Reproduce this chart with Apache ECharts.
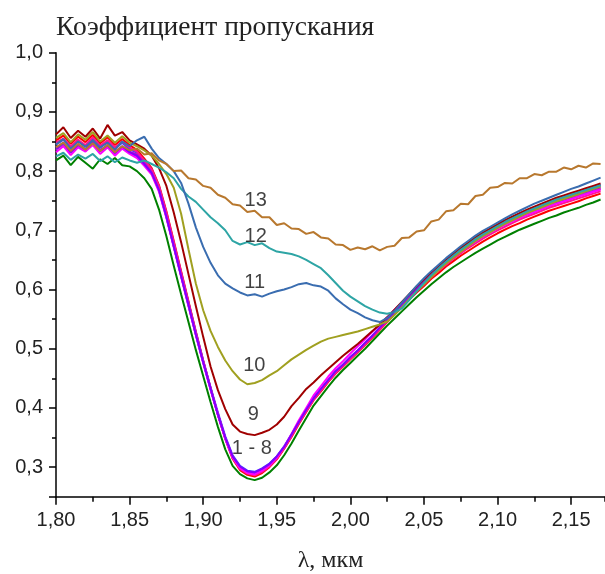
<!DOCTYPE html>
<html>
<head>
<meta charset="utf-8">
<script src="https://cdn.jsdelivr.net/npm/echarts@6/dist/echarts.min.js"></script>
<style>
html,body{margin:0;padding:0;background:#fff;}
#chart{width:605px;height:574px;}
</style>
</head>
<body>
<div id="chart"></div>
<script>
// wavelength grid, µm
const wavelengths = [
1.800,1.805,1.810,1.815,1.820,
1.825,1.830,1.835,1.840,1.845,
1.850,1.855,1.860,1.865,1.870,
1.875,1.880,1.885,1.890,1.895,
1.900,1.905,1.910,1.915,1.920,
1.925,1.930,1.935,1.940,1.945,
1.950,1.955,1.960,1.965,1.970,
1.975,1.980,1.985,1.990,1.995,
2.000,2.005,2.010,2.015,2.020,
2.025,2.030,2.035,2.040,2.045,
2.050,2.055,2.060,2.065,2.070,
2.075,2.080,2.085,2.090,2.095,
2.100,2.105,2.110,2.115,2.120,
2.125,2.130,2.135,2.140,2.145,
2.150,2.155,2.160,2.165,2.170];

// transmission curves 1..13
const s1 = [
0.852,0.860,0.846,0.858,0.849, 0.861,0.847,0.857,0.844,0.854, 0.844,0.836,0.821,0.805,0.776,
0.732,0.682,0.631,0.580,0.529, 0.480,0.434,0.389,0.348,0.314, 0.295,0.287,0.284,0.290,0.300,
0.313,0.331,0.351,0.373,0.393, 0.413,0.428,0.444,0.458,0.470, 0.482,0.494,0.506,0.519,0.532,
0.545,0.558,0.570,0.583,0.595, 0.606,0.618,0.628,0.639,0.648, 0.657,0.665,0.673,0.681,0.688,
0.695,0.701,0.707,0.712,0.718, 0.723,0.728,0.733,0.737,0.741, 0.745,0.749,0.754,0.758,0.762];
const s2 = [
0.818,0.826,0.810,0.824,0.814, 0.804,0.820,0.812,0.822,0.810, 0.808,0.800,0.788,0.770,0.735,
0.690,0.640,0.592,0.545,0.498, 0.454,0.410,0.368,0.330,0.302, 0.288,0.281,0.278,0.282,0.291,
0.303,0.320,0.340,0.362,0.383, 0.404,0.420,0.436,0.451,0.464, 0.476,0.488,0.500,0.513,0.526,
0.539,0.551,0.563,0.575,0.587, 0.598,0.609,0.619,0.629,0.638, 0.646,0.654,0.662,0.669,0.676,
0.683,0.689,0.695,0.701,0.706, 0.711,0.716,0.721,0.725,0.730, 0.734,0.738,0.743,0.747,0.752];
const s3 = [
0.832,0.842,0.827,0.840,0.833, 0.844,0.829,0.840,0.826,0.838, 0.829,0.822,0.809,0.794,0.765,
0.721,0.672,0.622,0.572,0.523, 0.476,0.431,0.388,0.348,0.316, 0.298,0.290,0.288,0.294,0.303,
0.316,0.334,0.356,0.379,0.400, 0.421,0.437,0.453,0.467,0.479, 0.492,0.504,0.516,0.529,0.541,
0.553,0.566,0.578,0.591,0.603, 0.614,0.625,0.636,0.646,0.656, 0.664,0.673,0.681,0.689,0.696,
0.703,0.709,0.715,0.721,0.726, 0.731,0.736,0.741,0.745,0.749, 0.753,0.757,0.761,0.765,0.769];
const s4 = [
0.838,0.848,0.832,0.845,0.837, 0.850,0.834,0.844,0.831,0.842, 0.832,0.826,0.812,0.797,0.768,
0.723,0.673,0.623,0.574,0.524, 0.477,0.433,0.389,0.350,0.318, 0.301,0.293,0.291,0.297,0.305,
0.318,0.334,0.355,0.376,0.397, 0.416,0.432,0.447,0.462,0.473, 0.486,0.497,0.510,0.522,0.536,
0.548,0.562,0.574,0.588,0.601, 0.613,0.625,0.636,0.647,0.657, 0.666,0.675,0.683,0.692,0.699,
0.706,0.712,0.718,0.724,0.730, 0.735,0.740,0.745,0.749,0.753, 0.757,0.762,0.766,0.770,0.774];
const s5 = [
0.845,0.853,0.840,0.851,0.842, 0.855,0.840,0.850,0.838,0.848, 0.837,0.831,0.817,0.802,0.773,
0.728,0.678,0.628,0.578,0.528, 0.480,0.435,0.392,0.352,0.320, 0.302,0.294,0.292,0.298,0.306,
0.318,0.335,0.355,0.377,0.397, 0.416,0.431,0.447,0.461,0.473, 0.485,0.497,0.509,0.522,0.535,
0.548,0.561,0.574,0.588,0.601, 0.614,0.626,0.638,0.649,0.659, 0.668,0.678,0.686,0.695,0.702,
0.709,0.716,0.722,0.728,0.733, 0.739,0.744,0.749,0.753,0.757, 0.761,0.765,0.769,0.773,0.777];
const s6 = [
0.840,0.846,0.834,0.844,0.836, 0.848,0.836,0.843,0.833,0.841, 0.833,0.828,0.813,0.798,0.769,
0.724,0.674,0.624,0.575,0.525, 0.478,0.432,0.389,0.349,0.317, 0.299,0.291,0.289,0.295,0.304,
0.317,0.333,0.354,0.376,0.396, 0.415,0.431,0.446,0.460,0.472, 0.485,0.496,0.509,0.521,0.534,
0.547,0.560,0.573,0.586,0.599, 0.611,0.623,0.634,0.645,0.655, 0.664,0.673,0.681,0.689,0.697,
0.704,0.710,0.716,0.721,0.727, 0.732,0.737,0.741,0.746,0.750, 0.754,0.758,0.762,0.766,0.770];
const s7 = [
0.836,0.845,0.831,0.842,0.834, 0.846,0.833,0.842,0.830,0.840, 0.831,0.825,0.811,0.796,0.767,
0.722,0.672,0.623,0.573,0.524, 0.477,0.432,0.389,0.349,0.317, 0.299,0.291,0.290,0.296,0.304,
0.317,0.333,0.354,0.376,0.396, 0.416,0.431,0.447,0.461,0.473, 0.485,0.497,0.509,0.522,0.535,
0.548,0.561,0.574,0.587,0.600, 0.612,0.624,0.635,0.646,0.656, 0.665,0.674,0.682,0.690,0.697,
0.704,0.711,0.717,0.722,0.728, 0.733,0.738,0.742,0.747,0.751, 0.755,0.759,0.763,0.767,0.771];
const s8 = [
0.848,0.855,0.842,0.853,0.844, 0.857,0.843,0.852,0.840,0.850, 0.840,0.833,0.818,0.803,0.774,
0.730,0.680,0.629,0.578,0.527, 0.479,0.433,0.389,0.348,0.316, 0.297,0.289,0.286,0.292,0.301,
0.314,0.332,0.352,0.374,0.394, 0.414,0.429,0.445,0.459,0.471, 0.483,0.495,0.507,0.520,0.533,
0.546,0.559,0.572,0.585,0.597, 0.609,0.621,0.632,0.642,0.652, 0.661,0.670,0.678,0.686,0.693,
0.700,0.706,0.712,0.718,0.723, 0.728,0.733,0.738,0.742,0.746, 0.750,0.754,0.758,0.762,0.766];
const s9 = [
0.862,0.874,0.856,0.868,0.858, 0.872,0.855,0.878,0.860,0.866, 0.852,0.845,0.838,0.826,0.805,
0.775,0.730,0.680,0.626,0.572, 0.520,0.470,0.430,0.398,0.372, 0.360,0.356,0.354,0.358,0.363,
0.372,0.385,0.403,0.417,0.432, 0.443,0.455,0.466,0.477,0.488, 0.498,0.508,0.519,0.530,0.541,
0.553,0.566,0.579,0.592,0.605, 0.617,0.629,0.640,0.651,0.661, 0.670,0.679,0.688,0.696,0.703,
0.710,0.717,0.723,0.729,0.735, 0.740,0.745,0.750,0.755,0.759, 0.763,0.767,0.771,0.775,0.779];
const s10 = [
0.856,0.864,0.849,0.862,0.853, 0.866,0.850,0.860,0.848,0.859, 0.848,0.842,0.835,0.826,0.812,
0.795,0.772,0.728,0.668,0.610, 0.565,0.530,0.503,0.480,0.462, 0.448,0.440,0.442,0.447,0.455,
0.462,0.472,0.482,0.490,0.498, 0.505,0.512,0.517,0.520,0.523, 0.526,0.529,0.533,0.537,0.541,
0.546,0.557,0.570,0.584,0.597, 0.609,0.621,0.633,0.644,0.654, 0.664,0.673,0.682,0.690,0.697,
0.704,0.711,0.717,0.723,0.729, 0.734,0.739,0.744,0.749,0.753, 0.757,0.761,0.766,0.770,0.774];
const s11 = [
0.845,0.854,0.838,0.850,0.841, 0.852,0.840,0.848,0.836,0.850, 0.842,0.852,0.858,0.838,0.822,
0.812,0.800,0.780,0.745,0.705, 0.672,0.645,0.624,0.610,0.602, 0.595,0.590,0.592,0.588,0.593,
0.597,0.600,0.604,0.609,0.611, 0.607,0.605,0.598,0.585,0.575, 0.566,0.560,0.553,0.548,0.545,
0.552,0.564,0.578,0.592,0.606, 0.619,0.631,0.642,0.653,0.663, 0.673,0.682,0.691,0.699,0.706,
0.713,0.720,0.727,0.733,0.739, 0.745,0.750,0.755,0.760,0.765, 0.770,0.774,0.779,0.784,0.789];
const s12 = [
0.825,0.831,0.819,0.828,0.821, 0.829,0.817,0.825,0.815,0.823, 0.818,0.814,0.818,0.812,0.806,
0.798,0.788,0.770,0.757,0.748, 0.735,0.722,0.712,0.700,0.682, 0.676,0.680,0.675,0.678,0.670,
0.664,0.662,0.660,0.656,0.650, 0.643,0.636,0.624,0.611,0.598, 0.588,0.580,0.572,0.566,0.561,
0.559,0.562,0.568,0.582,0.597, 0.611,0.624,0.636,0.647,0.657, 0.667,0.676,0.685,0.693,0.700,
0.707,0.714,0.720,0.726,0.732, 0.737,0.742,0.747,0.752,0.756, 0.760,0.764,0.768,0.772,0.776];
const s13 = [
0.840,0.848,0.834,0.846,0.836, 0.847,0.834,0.844,0.832,0.842, 0.835,0.838,0.828,0.830,0.818,
0.812,0.800,0.801,0.788,0.786, 0.775,0.772,0.760,0.755,0.744, 0.742,0.731,0.733,0.722,0.722,
0.709,0.712,0.703,0.702,0.694, 0.697,0.688,0.686,0.676,0.675, 0.667,0.671,0.668,0.673,0.666,
0.672,0.674,0.687,0.688,0.698, 0.700,0.715,0.718,0.732,0.734, 0.745,0.744,0.758,0.760,0.772,
0.773,0.780,0.779,0.788,0.788, 0.795,0.793,0.799,0.799,0.806, 0.803,0.809,0.806,0.813,0.812];

const curveNames = ['1','2','3','4','5','6','7','8','9','10','11','12','13'];
const curveColors = ['#ff0000','#008000','#ff00ff','#8000ff','#4040ff','#cc00cc','#9932cc','#ff1493',
                     '#a00000','#a0a020','#3a6db0','#2ea5a5','#b8782e'];
const curveValues = [s1,s2,s3,s4,s5,s6,s7,s8,s9,s10,s11,s12,s13];
const drawOrder = [0,1,4,5,6,7,2,3,8,9,11,10,12];

// curve annotations
const labelTexts = ['13','12','11','10','9','1 - 8'];
const labelX = [1.9357,1.9357,1.9350,1.9347,1.9341,1.9330];
const labelY = [0.7503,0.6895,0.6118,0.4716,0.3889,0.3314];

// axis ticks
const xTickLabels = ['1,80','1,85','1,90','1,95','2,00','2,05','2,10','2,15'];
const yTickLabels = ['0,3','0,4','0,5','0,6','0,7','0,8','0,9','1,0'];

const chart = echarts.init(document.getElementById('chart'), null, {renderer:'canvas'});

const series = drawOrder.map(function(k){
  return {
    name: curveNames[k], type:'line', xAxisIndex:0, yAxisIndex:0,
    data: wavelengths.map(function(x,i){return [x, curveValues[k][i]];}),
    showSymbol:false, symbol:'none', silent:true,
    lineStyle:{color:curveColors[k], width:2},
    itemStyle:{color:curveColors[k]},
    emphasis:{disabled:true}, animation:false, z:2
  };
});
series.push({
  type:'scatter', xAxisIndex:0, yAxisIndex:0, silent:true, symbolSize:1,
  itemStyle:{color:'rgba(0,0,0,0)'},
  data: labelTexts.map(function(t,i){return {name:t, value:[labelX[i], labelY[i]]};}),
  label:{show:true, position:'inside', formatter:'{b}', fontFamily:'Liberation Sans, Arial, sans-serif',
         fontSize:20, color:'#111'},
  z:5, animation:false
});

function xLabel(v){
  const k = Math.round((v-1.8)/0.05);
  if (Math.abs(v - (1.8 + k*0.05)) > 1e-6) return '';
  return xTickLabels[k] || '';
}
function yLabel(v){
  const k = Math.round((v-0.3)/0.1);
  if (Math.abs(v - (0.3 + k*0.1)) > 1e-6 || k < 0) return '';
  return yTickLabels[k] || '';
}

const axisFont = {fontFamily:'Liberation Sans, Arial, sans-serif', fontSize:20, color:'#222'};

chart.setOption({
  animation:false,
  backgroundColor:'#fff',
  title:{text:'Коэффициент пропускания', left:56, top:14, padding:0,
         textStyle:{fontFamily:'Liberation Serif, Times New Roman, serif', fontSize:27.5, fontWeight:'normal', color:'#222'}},
  grid:{left:56, right:0, top:52.7, bottom:77.3, containLabel:false, outerBoundsMode:'none'},
  xAxis:[{
    type:'value', position:'bottom', min:1.8, max:2.173, interval:0.05,
    axisLine:{show:true, onZero:false, lineStyle:{color:'#000', width:1.5}},
    axisTick:{show:true, length:8, lineStyle:{color:'#000', width:1.5}},
    axisLabel:Object.assign({formatter:xLabel, margin:14, showMaxLabel:false}, axisFont),
    splitLine:{show:false},
    name:'λ, мкм', nameLocation:'middle', nameGap:52,
    nameTextStyle:{fontFamily:'Liberation Serif, Times New Roman, serif', fontSize:24, color:'#222'}
  },{
    type:'value', position:'bottom', offset:0, min:1.8, max:2.173, interval:0.025,
    axisLine:{show:false, onZero:false},
    axisTick:{show:true, length:5, lineStyle:{color:'#000', width:1.5}},
    axisLabel:{show:false}, splitLine:{show:false}
  }],
  yAxis:[{
    type:'value', position:'left', min:0.25, max:1.0, splitNumber:8,
    axisLine:{show:true, onZero:false, lineStyle:{color:'#000', width:1.5}},
    axisTick:{show:true, length:7, lineStyle:{color:'#000', width:1.5}},
    axisLabel:Object.assign({formatter:yLabel, margin:13}, axisFont),
    splitLine:{show:false}
  },{
    type:'value', position:'left', offset:0, min:0.25, max:1.0, interval:0.05,
    axisLine:{show:false, onZero:false},
    axisTick:{show:true, length:4, lineStyle:{color:'#000', width:1.5}},
    axisLabel:{show:false}, splitLine:{show:false}
  }],
  series:series
});
</script>
</body>
</html>
